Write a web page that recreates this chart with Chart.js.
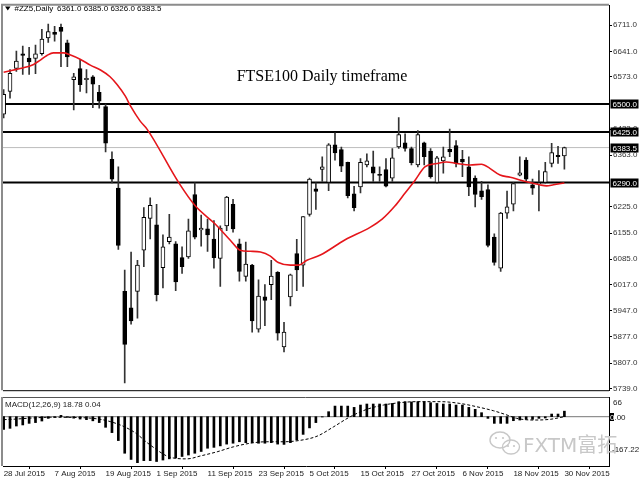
<!DOCTYPE html>
<html lang="en">
<head>
<meta charset="UTF-8">
<title>FTSE100 Daily timeframe</title>
<script src="https://cdn.jsdelivr.net/npm/chart.js@4.4.1/dist/chart.umd.min.js"></script>
<style>
  html, body { margin: 0; padding: 0; background: #fff; }
  #wrap { position: relative; width: 640px; height: 480px; overflow: hidden; }
  #priceBox { position: absolute; left: 0; top: 0; width: 640px; height: 396px; }
  #macdBox { position: absolute; left: 0; top: 396px; width: 640px; height: 84px; }
</style>
</head>
<body>
<div id="wrap">
  <div id="priceBox"><canvas id="price" width="640" height="396"></canvas></div>
  <div id="macdBox"><canvas id="macd" width="640" height="84"></canvas></div>
</div>
<script>
// daily bars, 28 Jul 2015 .. 30 Nov 2015 (bar index 0..88)
const opens = [6473, 6534, 6595, 6634, 6623, 6622, 6635, 6677, 6692, 6705,
  6664, 6565, 6595, 6565, 6573, 6531, 6493, 6352, 6275, 5999,
  5955, 5999, 6109, 6194, 6177, 6062, 6132, 6126, 6089, 6091,
  6258, 6163, 6166, 6139, 6087, 6174, 6232, 6126, 6039, 6069,
  5898, 5984, 6017, 6050, 5850, 5984, 6100, 6069, 6205, 6273,
  6325, 6290, 6391, 6378, 6344, 6260, 6278, 6337, 6332, 6312,
  6325, 6302, 6385, 6396, 6381, 6337, 6396, 6374, 6290, 6348,
  6379, 6389, 6352, 6332, 6302, 6268, 6271, 6144, 6061, 6208,
  6232, 6310, 6350, 6284, 6286, 6290, 6341, 6363, 6361];
const highs = [6539, 6592, 6642, 6655, 6652, 6658, 6700, 6714, 6708, 6714,
  6671, 6582, 6619, 6592, 6576, 6550, 6500, 6372, 6332, 6056,
  6104, 6082, 6223, 6249, 6232, 6150, 6205, 6132, 6118, 6192,
  6289, 6203, 6192, 6188, 6174, 6253, 6245, 6139, 6131, 6071,
  6030, 6017, 6082, 6052, 5916, 6045, 6138, 6199, 6302, 6289,
  6359, 6394, 6423, 6385, 6345, 6280, 6354, 6367, 6374, 6332,
  6354, 6381, 6464, 6420, 6385, 6429, 6398, 6381, 6360, 6385,
  6433, 6402, 6376, 6359, 6308, 6293, 6284, 6153, 6210, 6267,
  6290, 6359, 6357, 6299, 6322, 6344, 6395, 6387, 6385];
const lows = [6463, 6516, 6587, 6579, 6579, 6581, 6631, 6665, 6668, 6600,
  6600, 6484, 6534, 6530, 6490, 6489, 6372, 6289, 6111, 5754,
  5911, 5927, 6065, 6139, 5973, 6008, 6126, 6001, 6047, 6087,
  6139, 6120, 6106, 6061, 6012, 6161, 6157, 6026, 6026, 5890,
  5890, 5907, 5977, 5868, 5837, 5960, 6001, 6012, 6200, 6218,
  6293, 6268, 6350, 6319, 6249, 6214, 6262, 6332, 6293, 6293,
  6278, 6293, 6381, 6374, 6337, 6332, 6337, 6302, 6288, 6315,
  6359, 6332, 6306, 6255, 6225, 6245, 6118, 6069, 6052, 6194,
  6214, 6308, 6293, 6258, 6214, 6288, 6332, 6341, 6326];
const closes = [6526, 6582, 6615, 6630, 6613, 6634, 6674, 6694, 6686, 6694,
  6626, 6573, 6552, 6569, 6553, 6508, 6395, 6299, 6122, 5857,
  5920, 6069, 6197, 6229, 5990, 6118, 6144, 6024, 6065, 6161,
  6144, 6168, 6150, 6089, 6168, 6251, 6166, 6052, 6072, 5920,
  5986, 5975, 6040, 5887, 5890, 6043, 6056, 6199, 6299, 6266,
  6332, 6391, 6369, 6334, 6255, 6223, 6344, 6348, 6315, 6309,
  6280, 6356, 6418, 6381, 6343, 6418, 6359, 6306, 6356, 6359,
  6372, 6341, 6345, 6278, 6258, 6252, 6122, 6076, 6208, 6225,
  6287, 6316, 6299, 6275, 6290, 6319, 6370, 6359, 6383.5];

// red moving average, read at these bar positions
const maIdx = [0, 2.6, 4.7, 5.7, 6.8, 7.8, 9.4, 10.4, 12, 13.6, 15.2, 16.7, 17.8, 19.1, 19.9, 21.4, 22.5,
  27.5, 30.1, 33.2, 35.6, 37.1, 38.7, 40.3, 41.8, 43.1, 45, 46.3, 47.6, 49.7, 53.6, 57.5, 59.4,
  61.4, 63, 64.6, 66.1, 68, 69.5, 71.1, 73.2, 75, 76.3, 77.9, 79.5, 81, 82.6, 84.1, 85.2, 86.3, 88];
const maVals = [6585, 6595, 6606, 6617, 6630, 6637, 6637, 6632, 6620, 6604, 6591, 6573, 6552, 6521, 6495, 6455, 6433,
  6289, 6227, 6179, 6135, 6109, 6106, 6104, 6094, 6076, 6069, 6069, 6082, 6096, 6137, 6170, 6192,
  6227, 6262, 6297, 6332, 6341, 6345, 6341, 6337, 6339, 6328, 6310, 6304, 6297, 6290, 6284, 6281, 6284, 6289];

// MACD(12,26,9) main values per bar and signal line
const macdVals = [-43, -39.5, -31.6, -28, -22.6, -20, -14.7, -5.7, -2, 4.5,
  -2.3, -5, -8, -10, -14, -20, -36, -54, -81, -124,
  -145, -156, -149, -149, -152, -147, -143, -140, -135, -130,
  -124, -118, -107, -104, -99, -93, -90, -85, -88, -88,
  -90, -90, -88, -93, -94, -88, -79, -60, -38, -20,
  -1, 17, 36, 36, 36, 31.6, 39.5, 43, 43, 43,
  43, 45, 51, 51, 50, 51, 51, 47.5, 45, 43,
  43, 39.5, 39.5, 31.6, 25, 13.6, -5.7, -22.6, -22.6, -22.6,
  -13.6, -11.3, -9, -9, -5.7, -4.5, 9, 9, 18.78];
const sigIdx = [0, 1.1, 7.4, 12.5, 16.8, 20.4, 23, 26.2, 28.8, 30.9, 33.5, 36.1, 38.7, 41.3, 43.9, 46.6,
  49.2, 51.8, 54.4, 57, 59.6, 62.2, 64.8, 68.5, 71.6, 74.2, 76.9, 79, 80.5, 83.1, 85.7, 88];
const sigVals = [-10, -9, -2, -3.4, -17, -51, -96, -138, -143, -133, -119, -102, -90, -85, -85, -80,
  -66, -34, 0, 25, 39.5, 47.5, 51, 51, 45, 34, 20, 5.6, -5.6, -11.3, -9, 0.04];

const dateTickIdx = [0, 8, 16, 24, 32, 40, 48, 56, 64, 72, 80, 88];
const dateTickLabels = ['28 Jul 2015', '7 Aug 2015', '19 Aug 2015', '1 Sep 2015', '11 Sep 2015', '23 Sep 2015',
  '5 Oct 2015', '15 Oct 2015', '27 Oct 2015', '6 Nov 2015', '18 Nov 2015', '30 Nov 2015'];
const priceTicks = [6711, 6641, 6573, 6433, 6363, 6225, 6155, 6085, 6017, 5947, 5877, 5807, 5739];
const levelLines = [6500, 6425, 6290];
const bidPrice = 6383.5;

const FONT = "'Liberation Sans', 'DejaVu Sans', 'Noto Sans CJK SC', sans-serif";
const xMin = -0.1, xMax = 95;
const idx = opens.map((_, i) => i);

const flatLine = (v, color, width) => ({
  type: 'line',
  data: [{ x: xMin, y: v }, { x: xMax, y: v }],
  borderColor: color, borderWidth: width, pointRadius: 0, order: 5
});

// frame, header, title and the boxed price labels
const priceDecor = {
  id: 'priceDecor',
  afterDraw(chart) {
    const { ctx, chartArea: a, scales: { y } } = chart;
    ctx.save();
    ctx.strokeStyle = '#8c8c8c';
    ctx.lineWidth = 2;
    ctx.beginPath();
    ctx.moveTo(a.left - 1, a.bottom);
    ctx.lineTo(a.left - 1, a.top - 1);
    ctx.lineTo(a.right, a.top - 1);
    ctx.stroke();
    ctx.strokeStyle = '#000';
    ctx.lineWidth = 1;
    ctx.beginPath();
    ctx.moveTo(a.left, a.bottom + 0.5);
    ctx.lineTo(a.right, a.bottom + 0.5);
    ctx.stroke();

    // header
    ctx.fillStyle = '#000';
    ctx.beginPath();
    ctx.moveTo(5, 6.5); ctx.lineTo(10.5, 6.5); ctx.lineTo(7.75, 10.5); ctx.closePath();
    ctx.fill();
    ctx.font = '8px ' + FONT;
    ctx.textBaseline = 'middle';
    ctx.textAlign = 'left';
    ctx.fillText('#ZZ5,Daily', 14.5, 9);
    const last = opens.length - 1;
    ctx.fillText([opens[last], highs[last], lows[last], closes[last]].map(v => v.toFixed(1)).join(' '), 57, 9);

    ctx.font = "16px 'Liberation Serif', 'DejaVu Serif', serif";
    ctx.textAlign = 'center';
    ctx.fillText('FTSE100 Daily timeframe', 322, 77);

    ctx.font = '8px ' + FONT;
    ctx.textAlign = 'left';
    levelLines.concat([bidPrice]).forEach(v => {
      const py = Math.round(y.getPixelForValue(v));
      ctx.fillStyle = '#000';
      ctx.fillRect(a.right + 1.5, py - 4.5, 28, 9);
      ctx.fillStyle = '#fff';
      ctx.fillText(v.toFixed(1), a.right + 3.5, py + 0.5);
    });
    ctx.restore();
  }
};

new Chart(document.getElementById('price'), {
  type: 'bar',
  data: {
    datasets: [
      {
        type: 'line', label: 'MA',
        data: maIdx.map((x, k) => ({ x: x, y: maVals[k] })),
        borderColor: '#e5161b', borderWidth: 1.6, pointRadius: 0,
        cubicInterpolationMode: 'monotone', order: 0
      },
      {
        label: 'body',
        data: idx.map(i => ({ x: i, y: [opens[i], closes[i]] })),
        backgroundColor: idx.map(i => closes[i] >= opens[i] ? '#fff' : '#000'),
        borderColor: '#000', borderWidth: 1, borderSkipped: false,
        barThickness: 4, grouped: false, order: 1
      },
      {
        label: 'wick',
        data: idx.map(i => ({ x: i, y: [lows[i], highs[i]] })),
        backgroundColor: '#333', barThickness: 1, grouped: false, order: 2
      },
      ...levelLines.map(v => flatLine(v, '#000', 2)),
      flatLine(bidPrice, '#bdbdbd', 1)
    ]
  },
  options: {
    responsive: false,
    animation: false,
    layout: { padding: { left: 3, top: 3, right: 0, bottom: 2 } },
    plugins: { legend: { display: false }, tooltip: { enabled: false } },
    scales: {
      x: { type: 'linear', min: xMin, max: xMax, offset: false, display: false },
      y: {
        position: 'right', min: 5734.5, max: 6762.8,
        afterBuildTicks: s => { s.ticks = priceTicks.map(v => ({ value: v })); },
        afterFit: s => { s.width = 31; },
        ticks: { font: { family: FONT, size: 8 }, color: '#333', padding: 1, callback: v => v.toFixed(1) },
        grid: { drawOnChartArea: false, tickLength: 3, color: '#000' },
        border: { color: '#000', width: 1 }
      }
    }
  },
  plugins: [priceDecor]
});

// MACD panel: frame, caption, side labels and watermark
const macdDecor = {
  id: 'macdDecor',
  afterDraw(chart) {
    const { ctx, chartArea: a, scales: { y } } = chart;
    ctx.save();
    ctx.strokeStyle = '#555';
    ctx.lineWidth = 1;
    ctx.beginPath();
    ctx.moveTo(a.left - 1, a.top + 0.5);
    ctx.lineTo(a.right, a.top + 0.5);
    ctx.stroke();
    ctx.strokeStyle = '#8c8c8c';
    ctx.lineWidth = 2;
    ctx.beginPath();
    ctx.moveTo(a.left - 1, a.top);
    ctx.lineTo(a.left - 1, a.bottom);
    ctx.stroke();

    ctx.font = '8px ' + FONT;
    ctx.textBaseline = 'middle';
    ctx.textAlign = 'left';
    ctx.fillStyle = '#222';
    const n = macdVals.length - 1;
    ctx.fillText('MACD(12,26,9) ' + macdVals[n].toFixed(2) + ' ' + sigVals[sigVals.length - 1].toFixed(2), 5, 9);

    ctx.fillText(Math.floor(y.max).toString(), a.right + 4, 6.5);
    const zy = Math.round(y.getPixelForValue(0));
    ctx.fillStyle = '#000';
    ctx.fillRect(a.right + 0.5, zy - 4, 4.5, 8);
    ctx.fillStyle = '#fff';
    ctx.fillText('0', a.right + 1, zy + 0.5);
    ctx.fillStyle = '#222';
    ctx.fillText('.00', a.right + 1 + ctx.measureText('0').width, zy + 0.5);
    ctx.fillText(y.min.toFixed(2), a.right + 3, 54);

    // watermark
    ctx.strokeStyle = '#c8c8c8';
    ctx.lineWidth = 1.4;
    ctx.beginPath();
    ctx.ellipse(500, 44, 10, 8, 0, 0, Math.PI * 2);
    ctx.stroke();
    ctx.beginPath();
    ctx.ellipse(511, 51, 8.5, 7, 0, 0, Math.PI * 2);
    ctx.stroke();
    ctx.fillStyle = '#c8c8c8';
    [[496, 42], [503, 42], [508, 50], [514, 50]].forEach(p => {
      ctx.beginPath(); ctx.arc(p[0], p[1], 1.1, 0, Math.PI * 2); ctx.fill();
    });
    ctx.font = "20px 'DejaVu Sans', 'Noto Sans CJK SC', sans-serif";
    ctx.fillText('FXTM富拓', 523, 51);
    ctx.restore();
  }
};

new Chart(document.getElementById('macd'), {
  type: 'bar',
  data: {
    datasets: [
      {
        type: 'line', label: 'signal',
        data: sigIdx.map((x, k) => ({ x: x, y: sigVals[k] })),
        borderColor: '#000', borderWidth: 1, borderDash: [3, 2], pointRadius: 0,
        cubicInterpolationMode: 'monotone', order: 0
      },
      {
        label: 'macd',
        data: idx.map(i => ({ x: i, y: macdVals[i] })),
        backgroundColor: '#000', barThickness: 2, grouped: false, order: 1
      },
      flatLine(0, '#777', 1)
    ]
  },
  options: {
    responsive: false,
    animation: false,
    layout: { padding: { left: 3, top: 1, right: 0, bottom: 0 } },
    plugins: { legend: { display: false }, tooltip: { enabled: false } },
    scales: {
      x: {
        type: 'linear', min: xMin, max: xMax, offset: false,
        afterBuildTicks: s => { s.ticks = dateTickIdx.map(v => ({ value: v })); },
        afterFit: s => { s.height = 14; },
        ticks: {
          align: 'start', autoSkip: false, maxRotation: 0, padding: 0,
          font: { family: FONT, size: 8 }, color: '#222',
          callback: v => dateTickLabels[dateTickIdx.indexOf(v)]
        },
        grid: { drawOnChartArea: false, tickLength: 3, color: '#000' },
        border: { color: '#000' }
      },
      y: {
        position: 'right', min: -167.22, max: 66.8,
        afterFit: s => { s.width = 31; },
        ticks: { display: false },
        grid: { display: false },
        border: { color: '#000' }
      }
    }
  },
  plugins: [macdDecor]
});
</script>
</body>
</html>
